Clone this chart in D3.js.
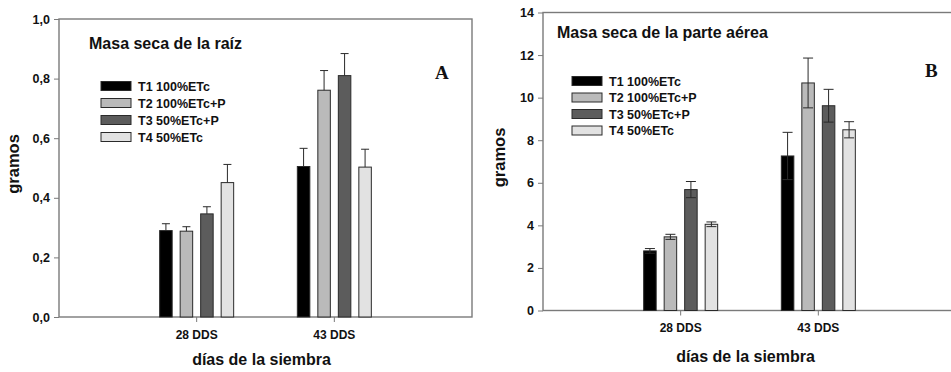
<!DOCTYPE html>
<html>
<head>
<meta charset="utf-8">
<script src="https://cdn.jsdelivr.net/npm/d3@7"></script>
<style>
  body { margin: 0; background: #fff; }
  svg text { font-family: "Liberation Sans", Arial, sans-serif; font-weight: bold; fill: #111; }
</style>
</head>
<body>
<svg id="chart" width="951" height="372"></svg>
<script>
const categories = ['28 DDS', '43 DDS'];
const series = ['T1 100%ETc', 'T2 100%ETc+P', 'T3 50%ETc+P', 'T4 50%ETc'];
const seriesColors = ['#000000', '#bababa', '#5c5c5c', '#e2e2e2'];

// panel A: masa seca de la raiz (g)
const raizT1 = [0.290, 0.505];
const raizT2 = [0.288, 0.761];
const raizT3 = [0.346, 0.810];
const raizT4 = [0.451, 0.503];
const raizErrT1 = [0.023, 0.061];
const raizErrT2 = [0.015, 0.066];
const raizErrT3 = [0.024, 0.074];
const raizErrT4 = [0.061, 0.060];
const raizTicks = [0, 0.2, 0.4, 0.6, 0.8, 1.0];

// panel B: masa seca de la parte aerea (g)
const aereaT1 = [2.80, 7.26];
const aereaT2 = [3.46, 10.69];
const aereaT3 = [5.68, 9.62];
const aereaT4 = [4.05, 8.49];
const aereaErrT1 = [0.11, 1.11];
const aereaErrT2 = [0.12, 1.17];
const aereaErrT3 = [0.38, 0.77];
const aereaErrT4 = [0.11, 0.38];
const aereaTicks = [0, 2, 4, 6, 8, 10, 12, 14];

const svg = d3.select('#chart');

function drawPanel(cfg) {
  const w = 413, h = 298;
  const g = svg.append('g').attr('transform', `translate(${cfg.left},${cfg.top})`);

  const x0 = d3.scaleBand().domain(categories).range([0, w]).paddingInner(0).paddingOuter(0.5);
  const x1 = d3.scaleBand().domain(series).range([-37, 37]).paddingInner(0.39);
  const y = d3.scaleLinear().domain(cfg.domain).range([h, 0]);

  const rows = [];
  series.forEach((s, i) => {
    categories.forEach((c, j) => {
      rows.push({ s, c, i, v: cfg.values[i][j], e: cfg.errors[i][j] });
    });
  });

  // frame
  g.append('rect')
    .attr('x', 0).attr('y', 0).attr('width', w).attr('height', h)
    .attr('fill', 'none').attr('stroke', '#7a7a7a').attr('stroke-width', 1.4);

  // bars
  g.selectAll('rect.bar')
    .data(rows)
    .enter()
    .append('rect')
    .attr('class', 'bar')
    .attr('x', d => x0(d.c) + x0.bandwidth() / 2 + x1(d.s))
    .attr('y', d => y(d.v))
    .attr('width', x1.bandwidth())
    .attr('height', d => h - y(d.v))
    .attr('fill', d => seriesColors[d.i])
    .attr('stroke', '#2a2a2a')
    .attr('stroke-width', 1);

  // error bars
  const eb = g.selectAll('g.err')
    .data(rows)
    .enter()
    .append('g')
    .attr('class', 'err')
    .attr('transform', d => `translate(${x0(d.c) + x0.bandwidth() / 2 + x1(d.s) + x1.bandwidth() / 2},0)`);

  eb.append('line')
    .attr('x1', 0).attr('x2', 0)
    .attr('y1', d => y(cfg.bothSides ? d.v - d.e : d.v))
    .attr('y2', d => y(d.v + d.e))
    .attr('stroke', '#2a2a2a').attr('stroke-width', 1);

  eb.append('line')
    .attr('x1', -cfg.cap / 2).attr('x2', cfg.cap / 2)
    .attr('y1', d => y(d.v + d.e)).attr('y2', d => y(d.v + d.e))
    .attr('stroke', '#2a2a2a').attr('stroke-width', 1);

  if (cfg.bothSides) {
    eb.append('line')
      .attr('x1', -cfg.cap / 2).attr('x2', cfg.cap / 2)
      .attr('y1', d => y(d.v - d.e)).attr('y2', d => y(d.v - d.e))
      .attr('stroke', '#2a2a2a').attr('stroke-width', 1);
  }

  // axes
  const yAxis = g.append('g')
    .call(d3.axisLeft(y).tickValues(cfg.ticks).tickFormat(cfg.fmt).tickSize(5).tickPadding(4));
  yAxis.select('.domain').remove();
  yAxis.selectAll('line').attr('stroke', '#7a7a7a');
  yAxis.selectAll('text').style('font-size', '12.5px').style('font-family', '"Liberation Sans", Arial, sans-serif').style('font-weight', 'bold').attr('fill', '#111');

  const xAxis = g.append('g')
    .attr('transform', `translate(0,${h})`)
    .call(d3.axisBottom(x0).tickSize(5).tickPadding(8));
  xAxis.select('.domain').remove();
  xAxis.selectAll('line').attr('stroke', '#7a7a7a');
  xAxis.selectAll('text').style('font-size', '12px').style('font-family', '"Liberation Sans", Arial, sans-serif').style('font-weight', 'bold').attr('fill', '#111');

  // axis titles
  g.append('text')
    .attr('transform', `translate(${cfg.yTitleX},${h / 2 - 4}) rotate(-90)`)
    .attr('text-anchor', 'middle')
    .style('font-size', '16.5px')
    .text('gramos');

  g.append('text')
    .attr('x', w / 2 - 4)
    .attr('y', h + cfg.xTitleDy)
    .attr('text-anchor', 'middle')
    .style('font-size', '16px')
    .text('días de la siembra');

  // panel title
  g.append('text')
    .attr('x', cfg.titleX)
    .attr('y', cfg.titleY)
    .style('font-size', '16px')
    .text(cfg.title);

  // panel letter
  g.append('text')
    .attr('x', cfg.letterX)
    .attr('y', cfg.letterY)
    .style('font-family', '"Liberation Serif", "Times New Roman", serif')
    .style('font-size', '19px')
    .text(cfg.letter);

  // legend
  const lg = g.selectAll('g.legend')
    .data(series)
    .enter()
    .append('g')
    .attr('class', 'legend')
    .attr('transform', (d, i) => `translate(${cfg.legendX},${cfg.legendY + i * cfg.legendStep})`);

  lg.append('rect')
    .attr('x', 0).attr('y', -4.5)
    .attr('width', 30).attr('height', 9)
    .attr('fill', (d, i) => seriesColors[i])
    .attr('stroke', '#2a2a2a').attr('stroke-width', 1);

  lg.append('text')
    .attr('x', 37).attr('y', 0)
    .attr('dy', '0.36em')
    .style('font-size', '12.5px')
    .text(d => d);
}

drawPanel({
  left: 59, top: 19,
  domain: [0, 1],
  ticks: raizTicks,
  fmt: d => d3.format('.1f')(d).replace('.', ','),
  values: [raizT1, raizT2, raizT3, raizT4],
  errors: [raizErrT1, raizErrT2, raizErrT3, raizErrT4],
  bothSides: false,
  cap: 8,
  yTitleX: -40,
  xTitleDy: 48,
  title: 'Masa seca de la raíz',
  titleX: 30, titleY: 30,
  letter: 'A',
  letterX: 376, letterY: 60,
  legendX: 42, legendY: 67, legendStep: 17
});

drawPanel({
  left: 543, top: 12.5,
  domain: [0, 14],
  ticks: aereaTicks,
  fmt: d3.format('d'),
  values: [aereaT1, aereaT2, aereaT3, aereaT4],
  errors: [aereaErrT1, aereaErrT2, aereaErrT3, aereaErrT4],
  bothSides: true,
  cap: 10,
  yTitleX: -38,
  xTitleDy: 51,
  title: 'Masa seca de la parte aérea',
  titleX: 14, titleY: 25,
  letter: 'B',
  letterX: 382, letterY: 64.5,
  legendX: 29, legendY: 68.5, legendStep: 16.5
});
</script>
</body>
</html>
